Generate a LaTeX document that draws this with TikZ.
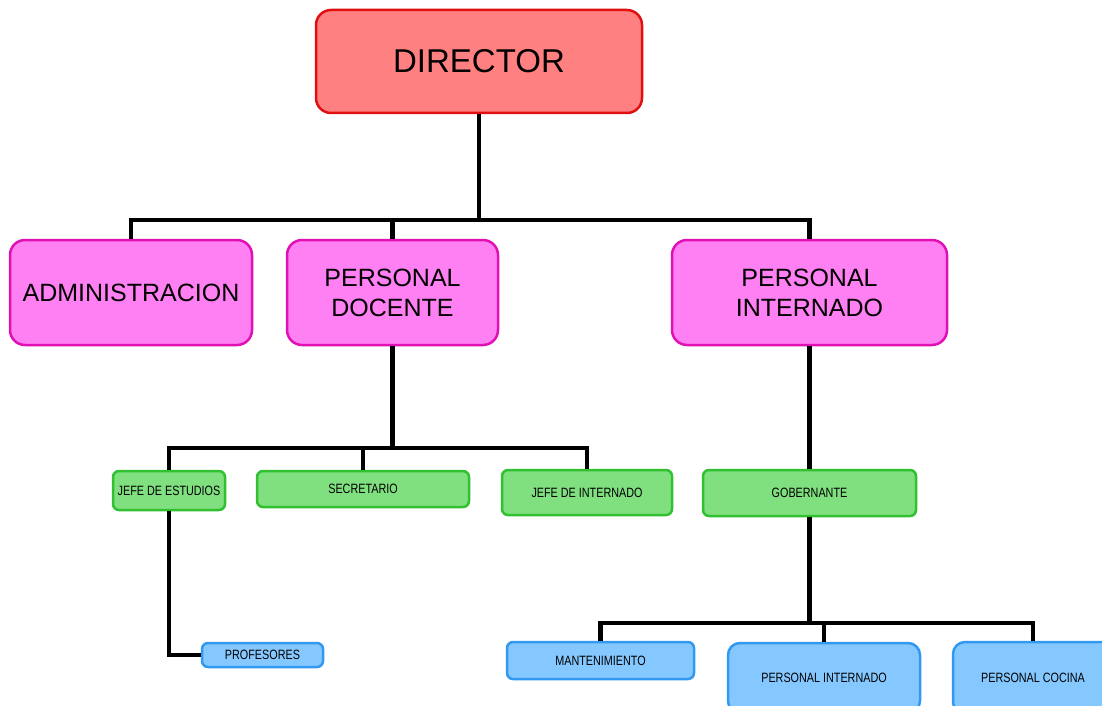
\documentclass[tikz,border=0pt]{standalone}
\usepackage{fontspec}
\setmainfont{Liberation Sans}
\newfontfamily\narrowfont[FakeStretch=0.8]{Liberation Sans}
\usepackage{xcolor}
\usepackage{tikz}
\usetikzlibrary{positioning}
\definecolor{redfill}{HTML}{FF8080}
\definecolor{redline}{HTML}{E01010}
\definecolor{pinkfill}{HTML}{FF80F2}
\definecolor{pinkline}{HTML}{E010B4}
\definecolor{greenfill}{HTML}{80E080}
\definecolor{greenline}{HTML}{30C030}
\definecolor{bluefill}{HTML}{85C8FF}
\definecolor{blueline}{HTML}{3399F0}

\begin{document}
\begin{tikzpicture}[x=1pt, y=-1pt,
        box/.style={draw, line width=2.5pt, align=center, inner sep=0pt, text=black},
        red box/.style={box, draw=redline, fill=redfill, rounded corners=15pt,
            font=\fontsize{33}{38}\selectfont},
        pink box/.style={box, draw=pinkline, fill=pinkfill, rounded corners=15pt,
            font=\fontsize{25}{30}\selectfont},
        green box/.style={box, draw=greenline, fill=greenfill, rounded corners=6pt,
            font=\narrowfont\fontsize{13.5}{16}\selectfont},
        blue box/.style={box, draw=blueline, fill=bluefill, rounded corners=6pt,
            font=\narrowfont\fontsize{13.5}{16}\selectfont},
        link/.style={line width=4.5pt}]
        \useasboundingbox (0,0) rectangle (1102,706);
        % top level
        \node[red box, minimum width=326, minimum height=103] (dir) at (479,61.5) {DIRECTOR};
        \node[pink box, minimum width=242, minimum height=105] (adm) at (131,292.5) {ADMINISTRACION};
        \node[pink box, minimum width=211, minimum height=105] (doc) at (392.5,292.5) {PERSONAL\\DOCENTE};
        \node[pink box, minimum width=275, minimum height=105] (int) at (809.5,292.5) {PERSONAL\\INTERNADO};
        % second level
        \node[green box, minimum width=112, minimum height=39] (jefe) at (169,490.5) {JEFE DE ESTUDIOS};
        \node[green box, minimum width=212, minimum height=36] (sec) at (363,489) {SECRETARIO};
        \node[green box, minimum width=170, minimum height=45] (jint) at (587,492.5) {JEFE DE INTERNADO};
        \node[green box, minimum width=213, minimum height=46] (gob) at (809.5,493) {GOBERNANTE};
        % third level
        \node[blue box, minimum width=121, minimum height=24] (prof) at (262.5,655) {PROFESORES};
        \node[blue box, minimum width=187, minimum height=37] (mant) at (600.5,660.5) {MANTENIMIENTO};
        \node[blue box, minimum width=192, minimum height=70, rounded corners=12pt] (pint) at (824,678) {PERSONAL INTERNADO};
        \node[blue box, minimum width=160, minimum height=72, rounded corners=12pt] (coc) at (1033,678) {PERSONAL COCINA};
        % connectors
        \coordinate (b1) at (479,220);
        \coordinate (b2) at (392.5,448);
        \coordinate (b3) at (809.5,623);
        \draw[link] (dir.south) -- (b1);
        \draw[link] (adm.north) |- (b1) -| (int.north);
        \draw[link] (doc.north) -- (doc.north |- b1);
        \draw[link] (doc.south) -- (b2);
        \draw[link] (jefe.north) |- (b2) -| (jint.north);
        \draw[link] (sec.north) -- (sec.north |- b2);
        \draw[link] (int.south) -- (gob.north);
        \draw[link] (gob.south) -- (b3);
        \draw[link] (mant.north) |- (b3) -| (coc.north);
        \draw[link] (pint.north) -- (pint.north |- b3);
        \draw[link] (jefe.south) |- (prof.west);
    \end{tikzpicture}
\end{document}
